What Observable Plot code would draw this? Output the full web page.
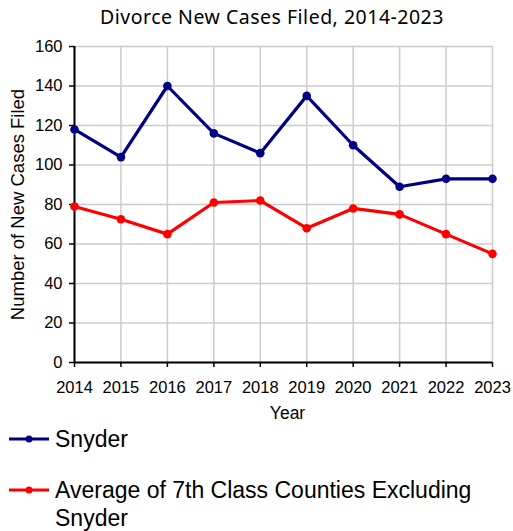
<!DOCTYPE html>
<html><head><meta charset="utf-8">
<script src="https://cdn.jsdelivr.net/npm/d3@7"></script>
<script src="https://cdn.jsdelivr.net/npm/@observablehq/plot@0.6"></script>
<style>
body{margin:0;background:#fff;}
#wrap{position:relative;width:513px;height:531px;overflow:hidden;font-family:"Liberation Sans",Arial,sans-serif;}
#title{position:absolute;left:0;top:3px;width:544px;text-align:center;font-family:"Noto Sans",sans-serif;font-size:19.5px;color:#000;letter-spacing:0.5px;}
.leg{position:absolute;left:9px;display:flex;align-items:flex-start;font-size:23px;color:#000;line-height:28px;}
.leg svg{flex:none;margin-top:0px;}
.leg span{margin-left:6px;}
</style></head>
<body><div id="wrap"><div id="title">Divorce New Cases Filed, 2014-2023</div></div>
<script>
const years = [2014,2015,2016,2017,2018,2019,2020,2021,2022,2023];
const snyder = [118,104,140,116,106,135,110,89,93,93];
const average = [79,72.5,65,81,82,68,78,75,65,55];
const yTicks = [0,20,40,60,80,100,120,140,160];
const seriesNames = ["Snyder","Average of 7th Class Counties Excluding Snyder"];
const seriesColors = ["#000080","#ff0000"];

const rows = [];
years.forEach((yr,i)=>{
  rows.push({year:yr, value:snyder[i], series:seriesNames[0]});
  rows.push({year:yr, value:average[i], series:seriesNames[1]});
});

const chart = Plot.plot({
  width:513, height:531,
  marginLeft:74, marginRight:21, marginTop:46, marginBottom:169,
  style:{fontFamily:"'Liberation Sans', Arial, sans-serif", fontSize:"16px", color:"#000", background:"transparent"},
  x:{domain:[2014,2023], ticks:years, tickFormat:"d", label:null},
  y:{domain:[0,160], ticks:yTicks, label:null},
  color:{domain:seriesNames, range:seriesColors},
  marks:[
    Plot.gridX(years,{stroke:"#cccccc", strokeOpacity:1, strokeWidth:1.5}),
    Plot.gridY(yTicks,{stroke:"#cccccc", strokeOpacity:1, strokeWidth:1.5}),
    Plot.axisY({ticks:yTicks, tickSize:5, tickPadding:7, fontSize:16.5, label:null, strokeWidth:1.5}),
    Plot.axisX({ticks:years, tickFormat:"d", tickSize:5, tickPadding:14, fontSize:16.5, label:null, strokeWidth:1.5}),
    Plot.ruleX([2014],{stroke:"#000", strokeWidth:2}),
    Plot.ruleY([0],{stroke:"#000", strokeWidth:2}),
    Plot.line(rows,{x:"year", y:"value", z:"series", stroke:"series", strokeWidth:3.2}),
    Plot.dot(rows,{x:"year", y:"value", fill:"series", r:4.3}),
    Plot.text(["Number of New Cases Filed"],{frameAnchor:"left", textAnchor:"middle", dx:-56, rotate:-90, fontSize:18.5, text:d=>d}),
    Plot.text(["Year"],{frameAnchor:"bottom", dy:56, dx:4, fontSize:17.5, text:d=>d})
  ]
});
chart.style.position="absolute";
chart.style.left="0"; chart.style.top="0";
const wrap=document.getElementById("wrap");
wrap.appendChild(chart);

const legTops=[425,476];
seriesNames.forEach((n,i)=>{
  const d=document.createElement("div");
  d.className="leg";
  d.style.top=legTops[i]+"px";
  d.style.width=(i===0?"500px":"480px");
  d.innerHTML=`<svg width="40" height="28"><line x1="0" x2="40" y1="14" y2="14" stroke="${seriesColors[i]}" stroke-width="3"/><circle cx="20" cy="14" r="3.5" fill="${seriesColors[i]}"/></svg><span>${n}</span>`;
  wrap.appendChild(d);
});
</script></body></html>
